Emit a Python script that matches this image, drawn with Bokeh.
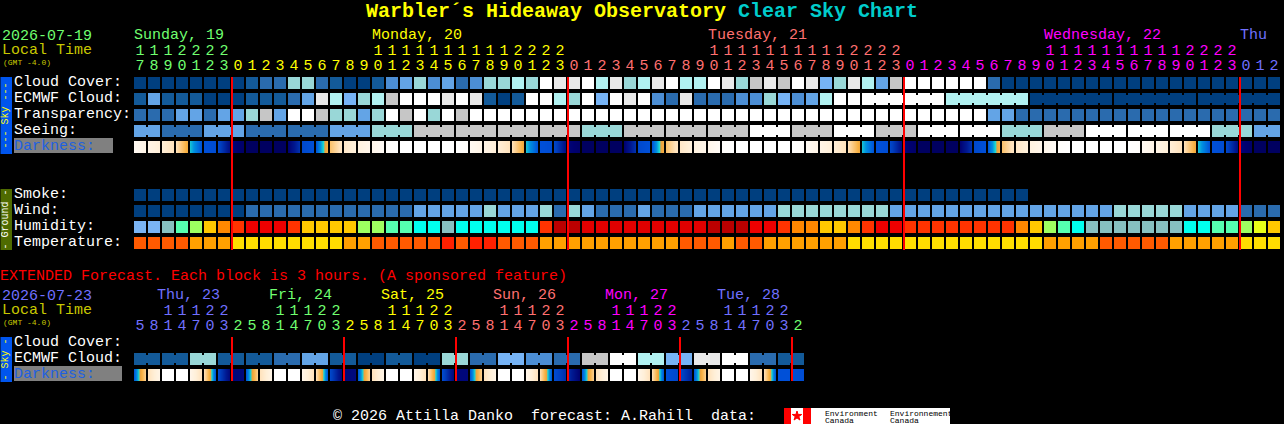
from bokeh.plotting import figure
from bokeh.models import Range1d
from bokeh.core.properties import value
from bokeh.embed import file_html
from bokeh.resources import INLINE

# ---------- data ----------
site = "Warbler\u00b4s Hideaway Observatory"
chart_word = "Clear Sky Chart"
main_date = "2026-07-19"
ext_date = "2026-07-23"
footer = "\u00a9 2026 Attilla Danko\u00a0\u00a0forecast: A.Rahill\u00a0\u00a0data:"
extended_note = "EXTENDED Forecast. Each block is 3 hours. (A sponsored feature)"

main_labels = ["Cloud Cover:", "ECMWF Cloud:", "Transparency:", "Seeing:"]
ground_labels = ["Smoke:", "Wind:", "Humidity:", "Temperature:"]

main_first_hour = 17
main_days = [("Sunday, 19", 0), ("Monday, 20", 17), ("Tuesday, 21", 41), ("Wednesday, 22", 65), ("Thu", 79)]
ext_days = ["Thu, 23", "Fri, 24", "Sat, 25", "Sun, 26", "Mon, 27", "Tue, 28"]
day_colors = ["#70ff70", "#ffff00", "#ff7070", "#ff00ff", "#7070ff"]
ext_day_colors = ["#7070ff", "#70ff70", "#ffff00", "#ff7070", "#ff00ff", "#7070ff", "#70ff70"]

cloud_palette = ["#003f7f", "#135a99", "#2a6bae", "#4c8ed4", "#63a4e6", "#76b3f5",
                 "#99d7d7", "#b1f1f1", "#c6c6c6", "#e9e9e9", "#ffffff"]
humidity_palette = ["#7ab4f4", "#86c0c0", "#00ffee", "#55ffb0", "#9eff60", "#e8ff18",
                    "#ffc800", "#ff8800", "#ff3300", "#ee0000", "#e00000", "#bb0000"]
temperature_palette = ["#ffdd00", "#ffa000", "#ff5a00", "#ff2000"]

cloud = [0,0,0,0,0,0,0,0,1,2,
         2,6,6,2,1,0,0,1,3,4,
         6,3,4,2,3,6,6,7,6,10,
         9,9,10,7,9,6,7,9,10,7,
         7,10,9,6,8,9,8,10,9,5,
         6,9,7,4,8,10,10,10,10,10,
         10,2,0,0,0,0,0,0,0,0,
         0,0,0,0,0,0,0,0,0,0,
         0,0]
ecmwf = [1,4,1,1,1,0,0,0,1,1,
         1,2,4,9,7,5,6,7,8,10,
         10,10,9,10,9,1,0,1,10,10,
         7,6,10,5,10,9,10,3,2,9,
         2,2,2,3,3,6,5,3,4,7,
         10,10,10,10,10,10,10,10,7,7,
         7,7,7,7,0,0,0,0,0,0,
         0,0,0,0,0,0,0,0,0,0,
         0,0]
ecmwf_blocks = [1]*52 + [6]*5
transparency = [2,2,2,4,4,2,4,4,6,8,
                4,10,10,8,6,6,4,6,10,8,
                10,6,10,8,10,10,10,10,10,10,
                10,10,10,10,10,10,10,10,10,10,
                10,10,10,10,10,10,10,10,10,10,
                10,10,10,10,10,10,10,10,10,10,
                10,4,4,2,2,2,2,2,2,2,
                2,2,2,2,2,2,2,2,2,2,
                2,2]
seeing = [4,4, 2,2,2, 4,4,4, 2,2,2, 2,2,2, 4,4,4, 6,6,6, 8,8,8, 8,8,8, 8,8,8, 8,8,8,
          6,6,6, 8,8,8, 8,8,8, 8,8,8, 10,10,10, 8,8,8, 10,10,10, 8,8,8, 10,10,10, 10,10,10,
          6,6,6, 8,8,8, 10,10,10, 10,10,10, 10,10,10, 6,6,6, 4,4]
seeing_blocks = [2] + [3]*26 + [2]

dark_start = [.06,.12,.2,.3,.49,.58,.62,.86,.92,.92,.92,.88,.62,.58,.38,.26,.16,.1,.02,0,0,0,0,0,
              .06,.12,.2,.3,.49,.58,.62,.86,.92,.92,.92,.88,.62,.58,.38,.26,.16,.1,.02,0,0,0,0,0,
              .06,.12,.2,.3,.49,.58,.62,.86,.92,.92,.92,.88,.62,.58,.38,.26,.16,.1,.02,0,0,0,0,0,
              .06,.12,.2,.3,.49,.58,.62,.86,.92,.92]
dark_end =   [.12,.2,.3,.44,.58,.6,.82,.9,.92,.92,.92,.7,.58,.42,.28,.18,.1,.04,0,0,0,0,0,.02,
              .12,.2,.3,.44,.58,.6,.82,.9,.92,.92,.92,.7,.58,.42,.28,.18,.1,.04,0,0,0,0,0,.02,
              .12,.2,.3,.44,.58,.6,.82,.9,.92,.92,.92,.7,.58,.42,.28,.18,.1,.04,0,0,0,0,0,.02,
              .12,.2,.3,.44,.58,.6,.82,.9,.92,.92]

smoke = [0]*64
wind = [0,0,0,0,0,0,0,0,2,2,
        2,2,2,2,2,2,2,2,2,2,
        4,4,4,4,4,6,4,4,4,6,
        2,6,4,2,2,2,4,2,2,2,
        4,4,4,4,4,4,6,6,6,6,
        6,6,6,6,4,4,4,4,4,4,
        4,4,4,4,4,4,4,4,4,4,
        6,6,6,6,6,4,4,4,4,2,
        2,2]
humidity = [0,0,1,3,4,6,7,8,9,9,
            9,8,6,6,6,6,4,4,3,3,
            2,2,1,2,2,2,2,2,2,8,
            11,11,10,10,10,10,10,10,10,10,
            10,11,11,11,9,9,8,7,7,6,
            6,7,8,9,9,8,8,8,8,8,
            8,8,8,7,6,4,3,2,1,1,
            1,1,1,1,1,2,2,3,3,4,
            5,6]
temperature = [2,2,2,2,1,1,1,0,0,0,
               0,0,0,0,0,1,1,2,2,2,
               2,2,3,2,3,3,2,2,2,1,
               1,1,1,1,1,1,1,1,1,2,
               2,2,1,2,2,1,1,1,1,1,
               1,0,0,0,0,0,0,0,0,0,
               0,0,0,0,0,1,1,1,1,2,
               2,2,2,2,1,1,1,1,1,0,
               0,0]

ext_first_hour = 5
ext_ecmwf = [1,1,1,1,6,6,1,1,1,1,2,2,4,4,1,1,0,0,1,1,0,0,6,6,
             2,2,5,5,3,3,2,2,8,8,10,10,7,7,5,5,9,9,10,10,2,2,1,1]
ext_blocks = [2]*24
ext_dark_start = [.58,.3,0,0,.1,.3,.62,.85,.58,.3,0,0,.1,.3,.62,.85,.58,.3,0,0,.1,.3,.6,.85,
                  .58,.3,0,0,.1,.3,.6,.72,.58,.3,0,0,.1,.3,.58,.62,.58,.3,0,0,.1,.3,.58,.58]
ext_dark_end =   [.34,.12,0,0,.3,.58,.85,.84,.34,.12,0,0,.3,.58,.85,.84,.34,.12,0,0,.3,.58,.85,.85,
                  .34,.12,0,0,.3,.58,.72,.88,.34,.12,0,0,.3,.58,.62,.76,.34,.12,0,0,.3,.58,.58,.6]

dark_stops = [(0,"#ffffff"),(.1,"#fff6ea"),(.2,"#ffefd8"),(.3,"#ffe2bc"),(.42,"#f8b040"),
              (.46,"#e8a040"),(.48,"#20d8d0"),(.52,"#0090e0"),(.58,"#0050d8"),(.66,"#0040c0"),
              (.78,"#001890"),(.88,"#000070"),(.92,"#000060")]

# ---------- layout ----------
W, H = 1284, 424
X0, PITCH, CELL = 134, 14, 12
FONT = value("Liberation Mono")

# the half-unit range offset cancels the half-pixel translate of the SVG backend
p = figure(width=W, height=H, x_range=Range1d(0.5, W + 0.5), y_range=Range1d(H + 0.5, 0.5),
           x_axis_location=None, y_axis_location=None, toolbar_location=None,
           output_backend="svg", min_border=0, outline_line_color=None,
           background_fill_color="black", border_fill_color="black")
p.grid.visible = False
p.styles = {"position": "absolute", "left": "0px", "top": "0px", "background-color": "black"}


def text(x, y, s, color="white", size=15, align="left", bold=False, angle=0):
    p.text([x], [y], text=[s], text_color=color, text_font=FONT,
           text_font_size=f"{size}px", text_align=align, text_baseline="middle",
           text_font_style="bold" if bold else "normal", angle=angle)


def row(levels, palette, top, blocks=None):
    xs = [X0 + PITCH * i for i in range(len(levels))]
    p.quad(left=xs, right=[x + CELL for x in xs], top=[top] * len(xs), bottom=[top + CELL] * len(xs),
           color=[palette[v] for v in levels], line_color=None)
    if blocks:
        start = 0
        bl, bc = [], []
        for size in blocks:
            for i in range(start, start + size - 1):
                bl.append(X0 + PITCH * i + CELL)
                bc.append(palette[levels[i]])
            start += size
        p.quad(left=bl, right=[x + PITCH - CELL for x in bl], top=[top + 2] * len(bl),
               bottom=[top + CELL - 2] * len(bl), color=bc, line_color=None)


def ramp(v):
    v = max(0, min(.92, v))
    for (a, ca), (b, cb) in zip(dark_stops, dark_stops[1:]):
        if a <= v <= b:
            t = (v - a) / (b - a)
            c = [round(int(ca[k:k + 2], 16) * (1 - t) + int(cb[k:k + 2], 16) * t) for k in (1, 3, 5)]
            return "#%02x%02x%02x" % tuple(c)
    return dark_stops[-1][1]


def darkness(start, end, top):
    l, r, c = [], [], []
    for i, (a, b) in enumerate(zip(start, end)):
        for k in range(CELL):
            l.append(X0 + PITCH * i + k)
            r.append(X0 + PITCH * i + CELL)  # each strip runs to the cell edge, so no seams show
            c.append(ramp(a + (b - a) * (k + .5) / CELL))
    p.quad(left=l, right=r, top=[top] * len(l), bottom=[top + CELL] * len(l),
           color=c, line_color=None)


def sidebar(top, bottom, color, s, tcolor):
    p.quad(left=[0], right=[12], top=[top], bottom=[bottom], color=color, line_color=None)
    p.text([5.5], [(top + bottom) / 2], text=[s], text_color=tcolor, text_font=FONT,
           text_font_size="10px", text_align="center", text_baseline="middle", angle=1.5708)


# title
text(366, 11, site, "#ffff00", 20, bold=True)
text(738, 11, chart_word, "#00cccc", 20, bold=True)

# main header
text(2, 35, main_date, day_colors[0])
text(2, 50, "Local Time", "#c8c800")
text(3, 62, "(GMT -4.0)", "#c8c800", 8)
for (name, col), c in zip(main_days, day_colors):
    text(X0 + PITCH * col, 35, name, c)

hours = [(main_first_hour + i) % 24 for i in range(len(cloud))]
hc, d = [], 0
for i, h in enumerate(hours):
    if i and h == 0:
        d += 1
    hc.append(day_colors[d])
xs = [X0 + PITCH * i + CELL / 2 for i in range(len(hours))]
p.text(xs, [65] * len(xs), text=[str(h % 10) for h in hours], text_color=hc, text_font=FONT,
       text_font_size="15px", text_align="center", text_baseline="middle")
ti = [i for i, h in enumerate(hours) if h >= 10]
p.text([xs[i] for i in ti], [50] * len(ti), text=[str(hours[i] // 10) for i in ti],
       text_color=[hc[i] for i in ti], text_font=FONT, text_font_size="15px",
       text_align="center", text_baseline="middle")

# main sky rows
sidebar(77, 154, "#0055ee", "--- Sky ---", "#ffff00")
for i, s in enumerate(main_labels):
    text(14, 82 + 16 * i, s)
row(cloud, cloud_palette, 77)
row(ecmwf, cloud_palette, 93, ecmwf_blocks)
row(transparency, cloud_palette, 109)
row(seeing, cloud_palette, 125, seeing_blocks)
p.quad(left=[14], right=[113], top=[138], bottom=[153], color="#808080", line_color=None)
text(14, 146, "Darkness:", "#2060e0")
darkness(dark_start, dark_end, 141)

# ground rows
sidebar(189, 250, "#4f6b00", "- Ground -", "#ffffff")
for i, s in enumerate(ground_labels):
    text(14, 194 + 16 * i, s)
row(smoke, cloud_palette, 189)
row(wind, cloud_palette, 205)
row(humidity, humidity_palette, 221)
row(temperature, temperature_palette, 237)

# midnight lines, main chart
mid = [i for i, h in enumerate(hours) if h == 0]
p.quad(left=[X0 + PITCH * i - 1 for i in mid], right=[X0 + PITCH * i + 1 for i in mid],
       top=[77] * len(mid), bottom=[250] * len(mid), color="#ff0000", line_color=None)

# extended
text(0, 276, extended_note, "#ff0000")
text(2, 295, ext_date, ext_day_colors[0])
text(2, 310, "Local Time", "#c8c800")
text(3, 322, "(GMT -4.0)", "#c8c800", 8)
ext_hours = [(ext_first_hour + 3 * i) % 24 for i in range(len(ext_ecmwf))]
ec, d = [], 0
for i, h in enumerate(ext_hours):
    if i and h < ext_hours[i - 1]:
        d += 1
    ec.append(ext_day_colors[d])
ex = [X0 + PITCH * i + CELL / 2 for i in range(len(ext_hours))]
p.text(ex, [325] * len(ex), text=[str(h % 10) for h in ext_hours], text_color=ec, text_font=FONT,
       text_font_size="15px", text_align="center", text_baseline="middle")
ti = [i for i, h in enumerate(ext_hours) if h >= 10]
p.text([ex[i] for i in ti], [310] * len(ti), text=[str(ext_hours[i] // 10) for i in ti],
       text_color=[ec[i] for i in ti], text_font=FONT, text_font_size="15px",
       text_align="center", text_baseline="middle")
for i, s in enumerate(ext_days):
    text(157 + 112 * i, 295, s, ext_day_colors[i])

sidebar(337, 382, "#0055ee", "- Sky -", "#ffff00")
text(14, 342, "Cloud Cover:")
text(14, 358, "ECMWF Cloud:")
p.quad(left=[14], right=[122], top=[366], bottom=[381], color="#808080", line_color=None)
text(14, 374, "Darkness:", "#2060e0")
row(ext_ecmwf, cloud_palette, 353, ext_blocks)
darkness(ext_dark_start, ext_dark_end, 369)
mid = [i for i, h in enumerate(ext_hours) if i and h < ext_hours[i - 1]]
p.quad(left=[X0 + PITCH * i - 1 for i in mid], right=[X0 + PITCH * i + 1 for i in mid],
       top=[337] * len(mid), bottom=[381] * len(mid), color="#ff0000", line_color=None)

# footer
text(333, 416, footer)
p.quad(left=[784], right=[950], top=[408], bottom=[424], color="#ffffff", line_color=None)
p.quad(left=[784, 803], right=[791, 811], top=[408, 408], bottom=[424, 424], color="#ff0000", line_color=None)
p.scatter([797], [416], marker="star", size=10, color="#ff0000")
text(825, 413, "Environment", "#000000", 8)
text(825, 420, "Canada", "#000000", 8)
text(890, 413, "Environnement", "#000000", 8)
text(890, 420, "Canada", "#000000", 8)

open("out.html", "w").write(file_html(p, INLINE))
